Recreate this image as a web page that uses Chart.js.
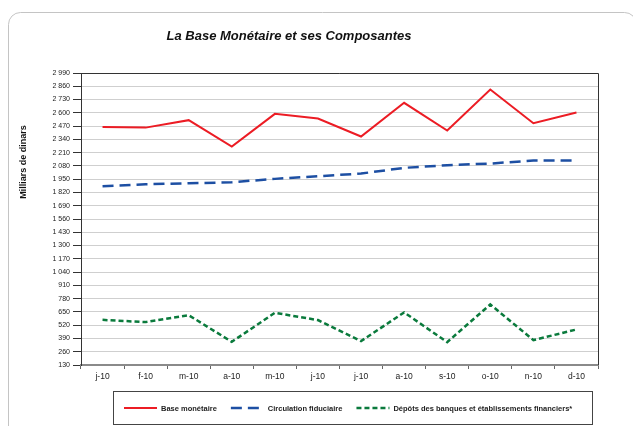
<!DOCTYPE html>
<html>
<head>
<meta charset="utf-8">
<script src="https://cdn.jsdelivr.net/npm/chart.js@4"></script>
<style>
  html, body { margin: 0; padding: 0; background: #fff; }
  #wrap { width: 633px; height: 426px; }
</style>
</head>
<body>
<div id="wrap"><canvas id="chart" width="633" height="426"></canvas></div>
<script>
const months = ["j-10", "f-10", "m-10", "a-10", "m-10", "j-10", "j-10", "a-10", "s-10", "o-10", "n-10", "d-10"];
const baseMonetaire = [2460, 2455, 2528, 2270, 2590, 2544, 2368, 2698, 2427, 2828, 2498, 2603];
const circulationFiduciaire = [1881, 1900, 1910, 1920, 1953, 1979, 2005, 2061, 2087, 2103, 2133, 2133];
const depotsBanques = [572, 550, 618, 357, 641, 570, 364, 645, 354, 723, 374, 478];
const yMin = 130, yMax = 2990, yStep = 130;

const FONT = "'Liberation Sans', Arial, sans-serif";

function fmt(v) {
  return String(v).replace(/\B(?=(\d{3})+(?!\d))/g, " ");
}

// frame, title, axis title, right border and legend box
const decor = {
  id: "decor",
  beforeDraw(chart) {
    const ctx = chart.ctx;
    ctx.save();
    ctx.strokeStyle = "#c4c4c4";
    ctx.lineWidth = 1;
    ctx.beginPath();
    ctx.roundRect(8.5, 12.5, 628, 440, 12);
    ctx.stroke();
    ctx.restore();
  },
  afterDraw(chart) {
    const ctx = chart.ctx;
    const a = chart.chartArea;
    ctx.save();
    // title
    ctx.fillStyle = "#111";
    ctx.font = "italic bold 13px " + FONT;
    ctx.textAlign = "center";
    ctx.textBaseline = "middle";
    ctx.fillText("La Base Monétaire et ses Composantes", 289, 36);

    // y axis title
    ctx.save();
    ctx.translate(24, 162);
    ctx.rotate(-Math.PI / 2);
    ctx.font = "bold 9px " + FONT;
    ctx.fillText("Milliars de dinars", 0, 0);
    ctx.restore();

    // top + right border of plot
    ctx.strokeStyle = "#333";
    ctx.lineWidth = 1;
    ctx.beginPath();
    ctx.moveTo(a.left, Math.round(a.top) + 0.5);
    ctx.lineTo(Math.round(a.right) + 0.5, Math.round(a.top) + 0.5);
    ctx.lineTo(Math.round(a.right) + 0.5, a.bottom);
    ctx.stroke();

    // legend
    ctx.strokeStyle = "#444";
    ctx.strokeRect(113.5, 391.5, 479, 33);
    ctx.font = "bold 7.5px " + FONT;
    ctx.textAlign = "left";
    let x = 124;
    const y = 408;
    chart.data.datasets.forEach((ds) => {
      ctx.strokeStyle = ds.borderColor;
      ctx.lineWidth = ds.borderWidth;
      ctx.setLineDash(ds.borderDash || []);
      ctx.beginPath();
      ctx.moveTo(x, y);
      ctx.lineTo(x + 33, y);
      ctx.stroke();
      ctx.setLineDash([]);
      x += 37;
      ctx.fillStyle = "#222";
      ctx.fillText(ds.label, x, y + 0.5);
      x += ctx.measureText(ds.label).width + 14;
    });
    ctx.restore();
  },
};

new Chart(document.getElementById("chart"), {
  type: "line",
  data: {
    labels: months,
    datasets: [
      {
        label: "Base monétaire",
        data: baseMonetaire,
        borderColor: "#ec1c24",
        borderWidth: 2,
        pointRadius: 0,
        tension: 0,
      },
      {
        label: "Circulation fiduciaire",
        data: circulationFiduciaire,
        borderColor: "#1d4fa3",
        borderWidth: 2.5,
        borderDash: [11, 6],
        pointRadius: 0,
        tension: 0,
      },
      {
        label: "Dépôts des banques et établissements financiers*",
        data: depotsBanques,
        borderColor: "#0a7a3c",
        borderWidth: 2.5,
        borderDash: [5, 3],
        pointRadius: 0,
        tension: 0,
      },
    ],
  },
  options: {
    responsive: false,
    animation: false,
    layout: { padding: { left: 8, top: 73, right: 35, bottom: 41 } },
    plugins: { legend: { display: false }, title: { display: false }, tooltip: { enabled: false } },
    scales: {
      x: {
        offset: true,
        afterFit: (s) => { s.height = 20; },
        grid: { offset: true, drawOnChartArea: false, tickLength: 4, tickColor: "#666" },
        border: { color: "#8a8a8a", width: 2 },
        ticks: { color: "#222", font: { family: FONT, size: 8.5 }, padding: 3, maxRotation: 0, autoSkip: false },
      },
      y: {
        min: yMin,
        max: yMax,
        afterFit: (s) => { s.width = 73; },
        grid: {
          color: "#cfcfcf",
          lineWidth: 1,
          tickLength: 8,
          tickColor: "#333",
        },
        border: { color: "#333", width: 1 },
        ticks: {
          stepSize: yStep,
          color: "#222",
          padding: 3,
          font: { family: FONT, size: 7 },
          callback: (v) => fmt(v),
        },
      },
    },
  },
  plugins: [decor],
});
</script>
</body>
</html>
